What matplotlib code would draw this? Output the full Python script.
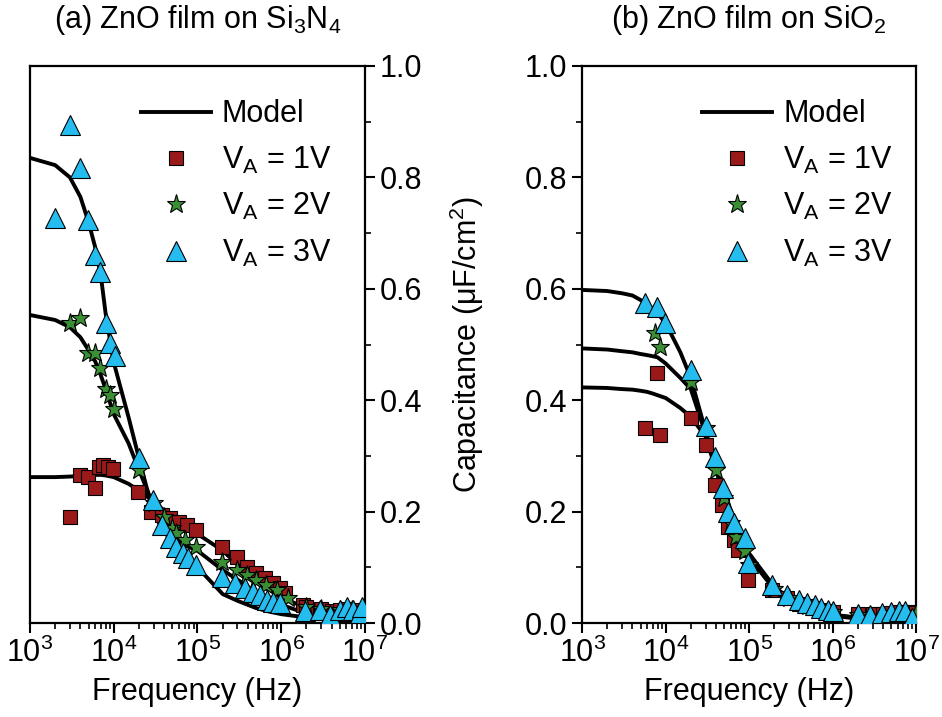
import matplotlib
matplotlib.use("Agg")
import matplotlib.pyplot as plt
from matplotlib.ticker import LogLocator, MultipleLocator, FormatStrFormatter, NullFormatter

plt.rcParams['font.family'] = ['Liberation Sans', 'DejaVu Sans']
plt.rcParams['mathtext.fontset'] = 'custom'
plt.rcParams['mathtext.rm'] = 'Liberation Sans'
plt.rcParams['mathtext.it'] = 'Liberation Sans'
plt.rcParams['mathtext.default'] = 'regular'

FS = 22

# model curve frequency grid (Hz)
model_freq = [1e3, 2e3, 3e3, 4e3, 5e3, 6e3, 7e3, 8e3, 1e4, 1.5e4, 2e4, 3e4, 4e4, 5e4,
              7e4, 1e5, 2e5, 3e5, 5e5, 7e5, 1e6, 2e6, 5e6, 1e7]

# (a) ZnO on Si3N4 -- model curves
a_model_1v = [0.262, 0.262, 0.263, 0.264, 0.265, 0.266, 0.266, 0.265, 0.262, 0.25, 0.238, 0.218,
              0.202, 0.19, 0.174, 0.16, 0.13, 0.105, 0.078, 0.062, 0.045, 0.028, 0.01, 0.004]
a_model_2v = [0.553, 0.544, 0.531, 0.513, 0.49, 0.47, 0.445, 0.42, 0.375, 0.323, 0.275, 0.21,
              0.178, 0.158, 0.14, 0.13, 0.095, 0.078, 0.055, 0.043, 0.033, 0.017, 0.006, 0.003]
a_model_3v = [0.835, 0.822, 0.80, 0.765, 0.72, 0.675, 0.625, 0.556, 0.468, 0.37, 0.296, 0.195,
              0.165, 0.145, 0.12, 0.1, 0.052, 0.04, 0.027, 0.021, 0.016, 0.01, 0.004, 0.001]

# (a) measured points
a_f_1v = [3e3, 3.95e3, 4.9e3, 6e3, 6.7e3, 7.4e3, 8.5e3, 9.8e3, 1.95e4, 2.8e4, 3.8e4, 4.7e4,
          6e4, 7.5e4, 9.7e4, 1.95e5, 3e5, 3.9e5, 5e5, 6.4e5, 8e5, 9.6e5, 1.1e6, 1.8e6,
          2e6, 3e6, 4e6, 5e6, 6e6, 7e6, 8e6, 9e6, 1e7]
a_c_1v = [0.19, 0.266, 0.262, 0.243, 0.28, 0.283, 0.28, 0.276, 0.235, 0.2, 0.194, 0.188,
          0.181, 0.176, 0.167, 0.137, 0.119, 0.1, 0.09, 0.081, 0.072, 0.063, 0.054, 0.032,
          0.029, 0.025, 0.022, 0.024, 0.025, 0.022, 0.02, 0.024, 0.02]
a_f_2v = [3e3, 3.95e3, 4.9e3, 6e3, 6.8e3, 8e3, 9e3, 1e4, 2e4, 3e4, 4e4, 5e4, 5.6e4, 7e4,
          9.7e4, 1.95e5, 3e5, 3.9e5, 5e5, 6.5e5, 8.9e5, 1.2e6, 2e6, 3e6, 5e6, 7e6, 9e6]
a_c_2v = [0.538, 0.547, 0.485, 0.485, 0.458, 0.42, 0.41, 0.384, 0.275, 0.215, 0.19, 0.17,
          0.161, 0.149, 0.137, 0.11, 0.095, 0.086, 0.077, 0.068, 0.059, 0.045, 0.028, 0.025,
          0.024, 0.023, 0.022]
a_f_3v = [2e3, 3e3, 3.95e3, 4.9e3, 6e3, 6.8e3, 8.1e3, 9e3, 1.03e4, 2e4, 2.95e4, 3.8e4, 4.7e4,
          5.6e4, 6.7e4, 7.6e4, 9.7e4, 1.95e5, 2.8e5, 3.7e5, 4.6e5, 5.6e5, 6.7e5, 8e5, 9.6e5,
          1.9e6, 2.9e6, 3.8e6, 5e6, 6.1e6, 7.2e6, 8.6e6, 9.3e6]
a_c_3v = [0.727, 0.894, 0.817, 0.724, 0.66, 0.63, 0.538, 0.503, 0.48, 0.296, 0.221, 0.176, 0.153,
          0.137, 0.126, 0.117, 0.104, 0.083, 0.072, 0.063, 0.056, 0.05, 0.041, 0.038, 0.036,
          0.022, 0.023, 0.015, 0.023, 0.029, 0.023, 0.018, 0.029]

# (b) ZnO on SiO2 -- model curves
b_model_1v = [0.423, 0.422, 0.42, 0.419, 0.417, 0.415, 0.412, 0.409, 0.404, 0.386, 0.37, 0.335,
              0.275, 0.228, 0.168, 0.118, 0.06, 0.042, 0.025, 0.018, 0.013, 0.008, 0.004, 0.003]
b_model_2v = [0.493, 0.491, 0.488, 0.486, 0.483, 0.481, 0.479, 0.477, 0.466, 0.44, 0.42, 0.34,
              0.278, 0.232, 0.172, 0.121, 0.062, 0.043, 0.026, 0.019, 0.014, 0.009, 0.005, 0.004]
b_model_3v = [0.598, 0.596, 0.592, 0.588, 0.58, 0.572, 0.563, 0.556, 0.538, 0.486, 0.44, 0.345,
              0.282, 0.236, 0.176, 0.125, 0.065, 0.045, 0.028, 0.02, 0.015, 0.01, 0.006, 0.005]

# (b) measured points
b_f_1v = [5.7e3, 7.9e3, 8.5e3, 2e4, 3e4, 3.9e4, 4.7e4, 5.6e4, 6.5e4, 7.4e4, 9.8e4, 1.9e5,
          2.8e5, 3.9e5, 5e5, 6e5, 7e5, 8e5, 9e5, 1e6, 2e6, 3e6, 4e6, 5e6, 6e6, 7e6, 8e6, 9e6, 1e7]
b_c_1v = [0.35, 0.448, 0.337, 0.368, 0.319, 0.247, 0.212, 0.172, 0.15, 0.131, 0.077, 0.059,
          0.045, 0.035, 0.03, 0.027, 0.024, 0.022, 0.02, 0.02, 0.016, 0.016, 0.017, 0.018,
          0.02, 0.02, 0.018, 0.02, 0.018]
b_f_2v = [7.5e3, 8.5e3, 2e4, 3e4, 4e4, 5e4, 6e4, 7e4, 9e4, 1e5, 2e5, 3e5, 5e5, 1e6, 2e6, 5e6, 1e7]
b_c_2v = [0.52, 0.496, 0.432, 0.35, 0.275, 0.225, 0.18, 0.155, 0.13, 0.105, 0.062, 0.045,
          0.03, 0.02, 0.015, 0.018, 0.018]
b_f_3v = [5.7e3, 7.9e3, 9.8e3, 2e4, 3e4, 3.9e4, 4.9e4, 5.6e4, 6.6e4, 8.9e4, 9.8e4, 1.9e5,
          2.8e5, 3.9e5, 4.9e5, 6.2e5, 7.3e5, 8.9e5, 1e6, 2e6, 2.8e6, 3.9e6, 5e6, 6.3e6, 7.3e6, 9e6]
b_c_3v = [0.575, 0.568, 0.539, 0.455, 0.353, 0.298, 0.242, 0.2, 0.18, 0.152, 0.108, 0.068,
          0.05, 0.041, 0.036, 0.032, 0.027, 0.023, 0.022, 0.016, 0.015, 0.018, 0.02, 0.022,
          0.022, 0.01]

titles = ['(a) ZnO film on Si$_3$N$_4$', '(b) ZnO film on SiO$_2$']
series_labels = ['V$_A$ = 1V', 'V$_A$ = 2V', 'V$_A$ = 3V']
xtick_vals = [1e3, 1e4, 1e5, 1e6, 1e7]
xtick_labels = ['$10^3$', '$10^4$', '$10^5$', '$10^6$', '$10^7$']

RED = '#9a1a1a'
GREEN = '#3a8f35'
BLUE = '#25bdf0'


def draw_panel(ax, models, points, title, yside, legend_x):
    for i, m in enumerate(models):
        ax.plot(model_freq, m, color='black', lw=2.8, zorder=2,
                label='Model' if i == 0 else None)
    styles = [('s', RED, 10.5), ('*', GREEN, 14), ('^', BLUE, 14)]
    for (f, c), (mk, col, ms), lab in zip(points, styles, series_labels):
        ax.plot(f, c, linestyle='none', marker=mk, markersize=ms, markerfacecolor=col,
                markeredgecolor='black', markeredgewidth=0.8, zorder=3, label=lab)

    ax.set_xscale('log')
    ax.set_xlim(1e3, 1e7)
    ax.set_ylim(0, 1.0)
    ax.set_xticks(xtick_vals)
    ax.set_xticklabels(xtick_labels)
    ax.xaxis.set_minor_locator(LogLocator(base=10, subs=range(2, 10), numticks=20))
    ax.xaxis.set_minor_formatter(NullFormatter())
    ax.yaxis.set_major_locator(MultipleLocator(0.2))
    ax.yaxis.set_minor_locator(MultipleLocator(0.1))
    ax.yaxis.set_major_formatter(FormatStrFormatter('%.1f'))

    for sp in ax.spines.values():
        sp.set_linewidth(1.6)
    ax.tick_params(axis='both', which='major', direction='out', length=7, width=1.5,
                   labelsize=FS)
    ax.tick_params(axis='both', which='minor', direction='out', length=4.5, width=1.2)
    ax.tick_params(axis='x', which='both', top=False, bottom=True)
    if yside == 'right':
        ax.yaxis.tick_right()
        ax.yaxis.set_label_position('right')
        ax.tick_params(axis='y', which='both', left=False, right=True)
        ax.set_ylabel('Capacitance ($\\mu$F/cm$^2$)', fontsize=FS, labelpad=18)
    else:
        ax.tick_params(axis='y', which='both', left=True, right=False)

    ax.set_xlabel('Frequency (Hz)', fontsize=FS, labelpad=6)
    ax.set_title(title, fontsize=FS, pad=27)
    ax.legend(loc='upper right', bbox_to_anchor=(legend_x, 0.94), frameon=False, fontsize=FS,
              handlelength=2.3, handletextpad=0.35, labelspacing=0.5, borderaxespad=0,
              borderpad=0)


fig = plt.figure(figsize=(9.42, 7.17), dpi=100)
ax_a = fig.add_axes([0.0318, 0.131, 0.3557, 0.777])
ax_b = fig.add_axes([0.618, 0.131, 0.3546, 0.777])

draw_panel(ax_a, [a_model_1v, a_model_2v, a_model_3v],
           [(a_f_1v, a_c_1v), (a_f_2v, a_c_2v), (a_f_3v, a_c_3v)], titles[0], 'right', 0.9)
draw_panel(ax_b, [b_model_1v, b_model_2v, b_model_3v],
           [(b_f_1v, b_c_1v), (b_f_2v, b_c_2v), (b_f_3v, b_c_3v)], titles[1], 'left', 0.93)

fig.savefig('out.png', dpi=100)
